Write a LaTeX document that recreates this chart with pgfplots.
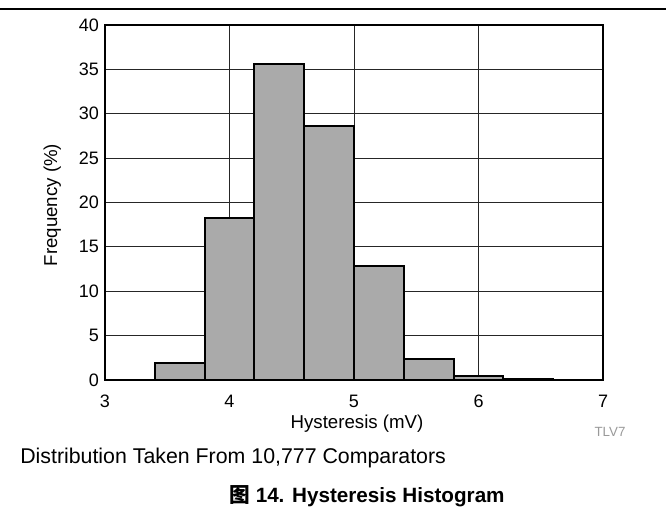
\documentclass[border=0pt]{standalone}
\usepackage{fontspec}
\setmainfont{Liberation Sans}
\newfontfamily\cjk{Noto Sans CJK SC}
\usepackage{pgfplots}
\pgfplotsset{compat=1.18}
\definecolor{barfill}{HTML}{AAAAAA}
\begin{document}
\begin{tikzpicture}[x=0.75pt,y=0.75pt]
    % picture frame in reference pixels: origin at the axis' lower left corner
    \useasboundingbox (-105,-128) rectangle (561,380);
    \draw[line width=1.1pt] (-105,371) -- (561,371);
    \begin{axis}[
        at={(0,0)}, anchor=south west,
        scale only axis,
        width=373.5pt, height=266.25pt,
        xmin=3, xmax=7, ymin=0, ymax=40,
        xtick={3,4,5,6,7},
        ytick={0,5,...,40},
        major tick length=0pt,
        grid=major,
        major grid style={black!85, line width=0.6pt},
        axis line style={line width=1.8pt},
        tick label style={font=\fontsize{13.5}{15}\selectfont},
        /pgf/number format/assume math mode=true,
        xticklabel style={yshift=-7.5pt},
        yticklabel style={xshift=-1pt},
        xlabel={Hysteresis (mV)},
        ylabel={Frequency (\%)},
        label style={font=\fontsize{14}{16}\selectfont},
        xlabel style={at={(axis description cs:0.506,-0.122)}, anchor=center},
        ylabel style={at={(axis description cs:-0.106,0.493)}, anchor=center},
    ]
        \addplot[ybar interval, fill=barfill, draw=black, line width=1.5pt]
        coordinates {
            (3.0,0) (3.4,1.9) (3.8,18.2) (4.2,35.6) (4.6,28.6)
            (5.0,12.8) (5.4,2.4) (5.8,0.5) (6.2,0.1) (6.6,0) (7.0,0)
        };
    \end{axis}
    \node[text=black!40, font=\fontsize{10}{12}\selectfont] at (505,-52) {TLV7};
    \node[anchor=base west, inner sep=0pt, font=\fontsize{16}{18}\selectfont] at (-85,-83)
        {Distribution Taken From 10,777 Comparators};
    \node[anchor=base, inner sep=0pt, font=\bfseries\fontsize{15.5}{18}\selectfont] at (262,-122)
        {{\cjk 图} 14. Hysteresis Histogram};
\end{tikzpicture}
\end{document}
